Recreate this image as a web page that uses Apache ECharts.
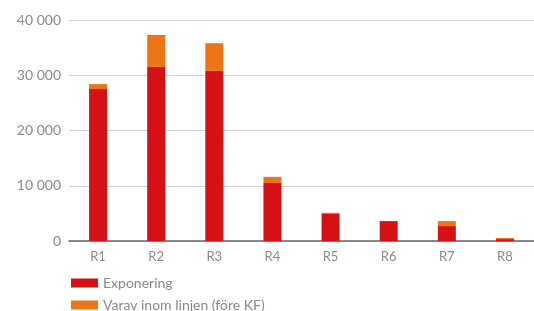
<!DOCTYPE html>
<html>
<head>
<meta charset="utf-8">
<script src="https://cdn.jsdelivr.net/npm/echarts@6/dist/echarts.min.js"></script>
<style>
html, body { margin: 0; padding: 0; background: #fff; }
#chart { width: 534px; height: 311px; }
</style>
</head>
<body>
<div id="chart"></div>
<script>
var categories = ['R1', 'R2', 'R3', 'R4', 'R5', 'R6', 'R7', 'R8'];
var exponering = [27500, 31500, 30800, 10500, 5000, 3600, 2700, 350];
var varavInomLinjen = [900, 5800, 5000, 1100, 100, 0, 900, 200];
var seriesNames = ['Exponering', 'Varav inom linjen (före KF)'];

var chart = echarts.init(document.getElementById('chart'));
var font = 'Lato';
function legendAt(name, top) {
    return {
        left: 66,
        top: top,
        itemWidth: 27,
        itemHeight: 9,
        icon: 'rect',
        textStyle: { color: '#888', fontSize: 14, fontFamily: font },
        data: [name]
    };
}
var option = {
    animation: false,
    textStyle: { fontFamily: font },
    grid: { left: 69, top: 20, width: 467, height: 221 },
    legend: [legendAt(seriesNames[0], 271), legendAt(seriesNames[1], 293)],
    xAxis: {
        type: 'category',
        data: categories,
        axisLine: { lineStyle: { color: '#666', width: 1.5 } },
        axisTick: { show: false },
        axisLabel: { color: '#8a8a8a', fontSize: 13, margin: 9 }
    },
    yAxis: {
        type: 'value',
        min: 0,
        max: 40000,
        interval: 10000,
        axisLine: { show: false },
        axisTick: { show: false },
        splitLine: { lineStyle: { color: '#d0d0d0', width: 1 } },
        axisLabel: {
            color: '#8a8a8a',
            fontSize: 14,
            margin: 8,
            formatter: function (v) {
                return String(v).replace(/\B(?=(\d{3})+(?!\d))/g, ' ');
            }
        }
    },
    series: [
        {
            name: seriesNames[0],
            type: 'bar',
            stack: 'total',
            barWidth: 18,
            itemStyle: { color: '#d51116' },
            data: exponering
        },
        {
            name: seriesNames[1],
            type: 'bar',
            stack: 'total',
            barWidth: 18,
            itemStyle: { color: '#ee7418' },
            data: varavInomLinjen
        }
    ]
};
chart.setOption(option);
</script>
</body>
</html>
